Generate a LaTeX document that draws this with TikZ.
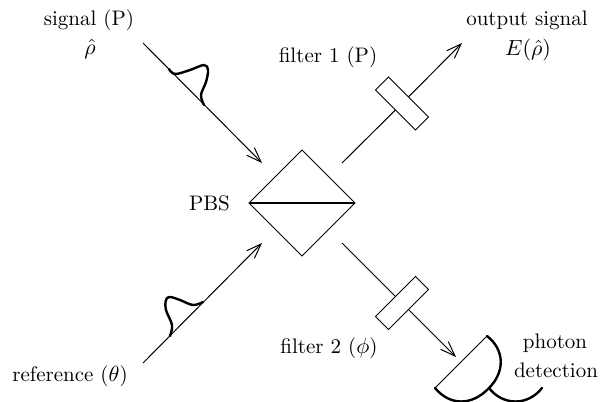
\documentclass[tikz,border=0pt]{standalone}
\usepackage{amsmath,amssymb}
\usepackage{tikz}
\usetikzlibrary{arrows.meta,shapes.geometric}

\begin{document}
\begin{tikzpicture}[
  x=0.5pt, y=-0.5pt,
  arr/.style={-{Straight Barb[length=2.6mm,width=1.9mm]}, line width=0.5pt},
  cube/.style={draw, diamond, aspect=1, minimum width=53pt, minimum height=53pt, inner sep=0pt, outer sep=0pt, line width=0.5pt},
  filt/.style={draw, rectangle, minimum width=28.3pt, minimum height=9.2pt, inner sep=0pt, outer sep=0pt, line width=0.5pt},
  thin line/.style={line width=0.5pt},
  pulse/.style={line width=1.2pt, line cap=round, line join=round},
  lab/.style={inner sep=0pt, align=center, font=\fontsize{10.5}{12.6}\selectfont}
]
\useasboundingbox (0,0) rectangle (606,402);
\coordinate (sigin) at (143,43);
\coordinate (sigend) at (262,163);
\coordinate (refin) at (143,363);
\coordinate (refend) at (262,243);
\coordinate (outin) at (342,163);
\coordinate (outend) at (462,43);
\coordinate (detin) at (342,243);
\coordinate (detend) at (456,357);
\coordinate (detA) at (487,336);
\coordinate (detB) at (435,388);
\coordinate (detC) at (489,388);
\node[cube] (pbs) at (302,203) {};
\node[filt, rotate=-45] (filter1) at (402,103.5) {};
\node[filt, rotate=45]  (filter2) at (402,303) {};
\draw[arr] (sigin) -- (sigend);
\draw[arr] (refin) -- (refend);
\draw[thin line] (outin) -- (filter1);
\draw[arr] (filter1) -- (outend);
\draw[thin line] (detin) -- (filter2);
\draw[arr] (filter2) -- (detend);
\draw[line width=1.2pt] (pbs.west) -- (pbs.east);
% pulses
\draw[pulse] plot[smooth, tension=0.6] coordinates {(169,69) (175,74) (190,70) (204,65) (208,70) (206,82) (201,95) (204,105)};
\draw[pulse] plot[smooth, tension=0.6] coordinates {(203,302) (193,305) (180,300) (170,297) (166,300) (166,310) (172,325) (170,336)};
% detector
\draw[thin line] (detA) -- (detB);
\draw[pulse] (detA) .. controls (505,350) and (505,372) .. (detC) .. controls (472,406) and (450,406) .. (detB);
\draw[pulse] (detC) .. controls (503,406) and (528,406) .. (542,388);
% labels
\node[lab] (sig)  at (89,20)   {signal (P)};
\node[lab] (rho)  at (90,49)   {$\hat{\rho}$};
\node[lab] (f1)   at (328,57)  {filter 1 (P)};
\node[lab] (outl) at (527,20)  {output signal};
\node[lab] (erho) at (528,50)  {$E(\hat{\rho})$};
\node[lab] (bs)   at (209.5,203) {PBS};
\node[lab] (f2)   at (329,348) {filter 2 ($\phi$)};
\node[lab] (ref)  at (70,376)  {reference ($\theta$)};
\node[lab] (ph)   at (555,343) {photon};
\node[lab] (de)   at (556,370) {detection};
\end{tikzpicture}
\end{document}
